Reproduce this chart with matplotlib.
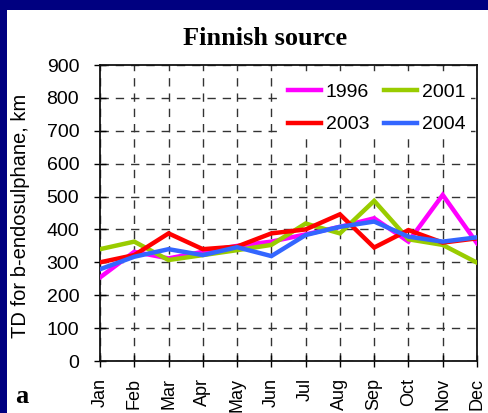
import matplotlib
matplotlib.use("Agg")
import matplotlib.pyplot as plt
from matplotlib.patches import Rectangle

months = ["Jan", "Feb", "Mar", "Apr", "May", "Jun", "Jul", "Aug", "Sep", "Oct", "Nov", "Dec"]
td_1996 = [254, 332, 312, 332, 350, 363, 385, 408, 434, 363, 505, 358]
td_2001 = [340, 363, 307, 322, 337, 353, 418, 388, 487, 370, 353, 299]
td_2003 = [300, 322, 388, 340, 348, 388, 400, 446, 345, 398, 360, 373]
td_2004 = [279, 317, 340, 322, 346, 319, 383, 408, 424, 378, 363, 376]
yticks = list(range(0, 1000, 100))

series = [("1996", td_1996, "#ff00ff"),
          ("2001", td_2001, "#99cc00"),
          ("2003", td_2003, "#ff0000"),
          ("2004", td_2004, "#3366ff")]

W, H = 488, 413
fig = plt.figure(figsize=(W / 100, H / 100), dpi=100)
fig.patch.set_facecolor("#000080")
fig.patches.append(Rectangle((7 / W, 0), 1, 1 - 10 / H, transform=fig.transFigure,
                             facecolor="white", edgecolor="none", zorder=-5))

ax = fig.add_axes([100 / W, 1 - 361 / H, 377 / W, 296 / H])
ax.set_zorder(2)
x = list(range(len(months)))
handles = {}
for name, vals, col in series:
    handles[name], = ax.plot(x, vals, color=col, lw=3.2, label=name,
                             solid_joinstyle="miter", zorder=3)

ax.set_xlim(0, 11)
ax.set_ylim(0, 900)
ax.set_xticks(x)
ax.set_xticklabels(months, rotation=90, fontsize=13, family="Liberation Sans")
ax.set_yticks(yticks)
ax.set_yticklabels([str(v) for v in yticks], fontsize=14, family="Liberation Sans")
ax.tick_params(direction="inout", length=8, width=1, colors="black")
ax.tick_params(axis="y", pad=11)
ax.tick_params(axis="x", pad=8)
ax.grid(True, color="#333333", lw=1, ls=(0, (6, 5)))
for s in ax.spines.values():
    s.set_linewidth(1.3)
    s.set_color("#111111")

# column-wise fill, so order gives rows 1996/2001 and 2003/2004
order = ["1996", "2003", "2001", "2004"]
leg = ax.legend([handles[k] for k in order], order, ncol=2, loc="upper right",
                bbox_to_anchor=(0.985, 0.957), frameon=True,
                prop={"family": "Liberation Sans", "size": 14}, handlelength=1.7,
                handletextpad=0.25, columnspacing=0.75, labelspacing=0.75,
                borderpad=0.3, borderaxespad=0.0)
leg.get_frame().set_edgecolor("none")
leg.get_frame().set_facecolor("white")
leg.get_frame().set_alpha(1)
leg.set_zorder(5)

fig.text(265 / W, 1 - 45 / H, "Finnish source", ha="center", va="baseline",
         fontsize=19, fontweight="bold", family="Liberation Serif", zorder=3)
fig.text(21 / W, 1 - 338 / H, "TD for b-endosulphane, km", rotation=90, ha="center",
         va="bottom", fontsize=14.5, family="Liberation Sans", zorder=3)
fig.text(15 / W, 1 - 403 / H, "a", ha="left", va="baseline", fontsize=19,
         fontweight="bold", family="Liberation Serif", zorder=3)

fig.savefig("out.png", dpi=100, facecolor=fig.get_facecolor())
